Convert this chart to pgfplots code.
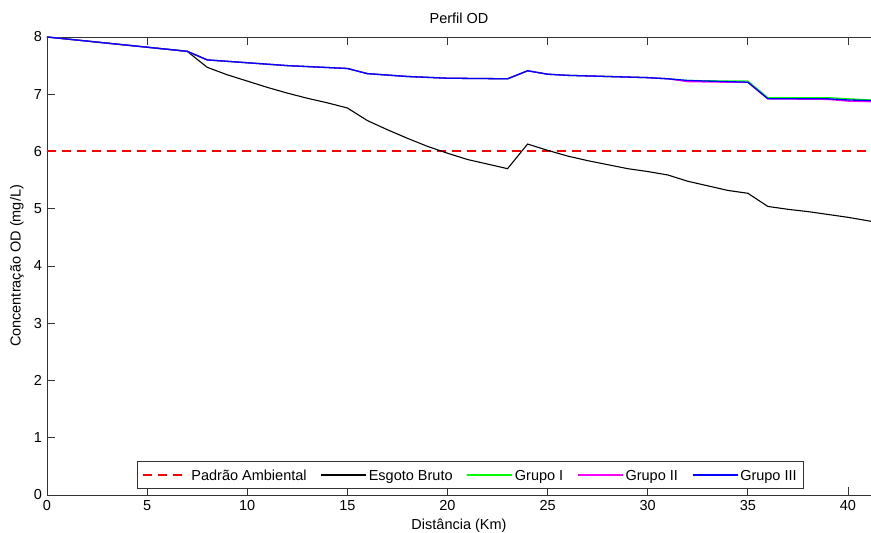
\documentclass[border=0pt]{standalone}
\usepackage{fontspec}
\setmainfont{Liberation Sans}
\usepackage{pgfplots}
\pgfplotsset{compat=1.18}
\definecolor{mred}{RGB}{255,0,0}
\definecolor{mgreen}{RGB}{0,255,0}
\definecolor{mmag}{RGB}{255,0,255}
\definecolor{mblue}{RGB}{0,0,255}
\pgfplotstableread{
x y
0 8.00
7 7.75
8 7.47
9 7.34
10 7.23
11 7.12
12 7.02
13 6.93
14 6.85
15 6.76
16 6.54
17 6.38
18 6.23
19 6.09
20 5.97
21 5.86
22 5.78
23 5.70
24 6.13
25 6.02
26 5.92
27 5.84
28 5.77
29 5.70
30 5.65
31 5.59
32 5.48
33 5.40
34 5.32
35 5.27
36 5.04
37 4.99
38 4.95
39 4.90
40 4.85
41 4.79
41.15 4.78
}\esgoto
\pgfplotstableread{
x y
0 8.00
7 7.75
8 7.60
10 7.55
12 7.50
15 7.45
16 7.36
18 7.31
20 7.28
23 7.27
24 7.41
25 7.35
26 7.33
28 7.31
30 7.29
31 7.27
32 7.24
34 7.23
35 7.23
36 6.94
39 6.94
40 6.92
41.15 6.90
}\grupoI
\pgfplotstableread{
x y
0 8.00
7 7.75
8 7.60
10 7.55
12 7.50
15 7.45
16 7.36
18 7.31
20 7.28
23 7.27
24 7.41
25 7.35
26 7.33
28 7.31
30 7.29
31 7.27
32 7.22
34 7.21
35 7.21
36 6.92
39 6.91
40 6.88
41.15 6.87
}\grupoII
\pgfplotstableread{
x y
0 8.00
7 7.75
8 7.60
10 7.55
12 7.50
15 7.45
16 7.36
18 7.31
20 7.28
23 7.27
24 7.41
25 7.35
26 7.33
28 7.31
30 7.29
31 7.27
32 7.24
34 7.22
35 7.21
36 6.92
39 6.92
40 6.90
41.15 6.89
}\grupoIII
\begin{document}
\fontsize{14.5}{17}\selectfont
\begin{tikzpicture}
\begin{axis}[
  name=ax,
  scale only axis,
  width=824pt, height=458pt,
  xmin=0, xmax=41.15, ymin=0, ymax=8,
  xtick={0,5,...,40}, ytick={0,1,...,8},
  axis x line=box, axis y line=left,
  axis line style={-, black!80, line width=0.8pt},
  tick align=inside, major tick length=8pt,
  tick style={black!80, line width=0.8pt},
  /pgf/number format/assume math mode=true,
  ticklabel style={font=\fontsize{14.5}{17}\selectfont},
  title={Perfil OD},
  every axis title/.style={at={(axis description cs:0.5,1.04)}, anchor=center, font=\fontsize{14.5}{17}\selectfont},
  xlabel={Distância (Km)},
  xlabel style={at={(axis description cs:0.5,-0.0677)}, anchor=center, font=\fontsize{14.5}{17}\selectfont},
  ylabel={Concentração OD (mg/L)},
  every axis y label/.style={at={(axis description cs:-0.0364,0.5)}, rotate=90, anchor=center, font=\fontsize{14.5}{17}\selectfont},
  legend columns=5,
  legend style={at={(axis description cs:0.514,0.0135)}, anchor=south, draw=black!80, line width=0.8pt,
    font=\fontsize{14.5}{17}\selectfont\vphantom{Ãg}, inner xsep=5pt, inner ysep=4pt,
    /tikz/every even column/.append style={column sep=12pt}},
  legend image code/.code={\draw[#1] (0pt,0pt) -- (45pt,0pt);},
  legend cell align=left,
]
\addplot[draw=none, forget plot] coordinates {(0,0)};
\addplot[draw=mred, line width=2pt, dash pattern=on 9pt off 6pt] coordinates {(0,6) (41.15,6)};
\addlegendentry{Padrão Ambiental}
\addplot[draw=black, line width=1.1pt] table[x=x,y=y] {\esgoto};
\addlegendentry{Esgoto Bruto}
\addplot[draw=mgreen, line width=1.3pt] table[x=x,y=y] {\grupoI};
\addlegendentry{Grupo I}
\addplot[draw=mmag, line width=1.3pt] table[x=x,y=y] {\grupoII};
\addlegendentry{Grupo II}
\addplot[draw=mblue, line width=1.3pt] table[x=x,y=y] {\grupoIII};
\addlegendentry{Grupo III}
\end{axis}
\pgfresetboundingbox
\path ([shift={(-47pt,-38pt)}]ax.south west) rectangle ([shift={(0pt,37pt)}]ax.north east);
\end{tikzpicture}
\end{document}
